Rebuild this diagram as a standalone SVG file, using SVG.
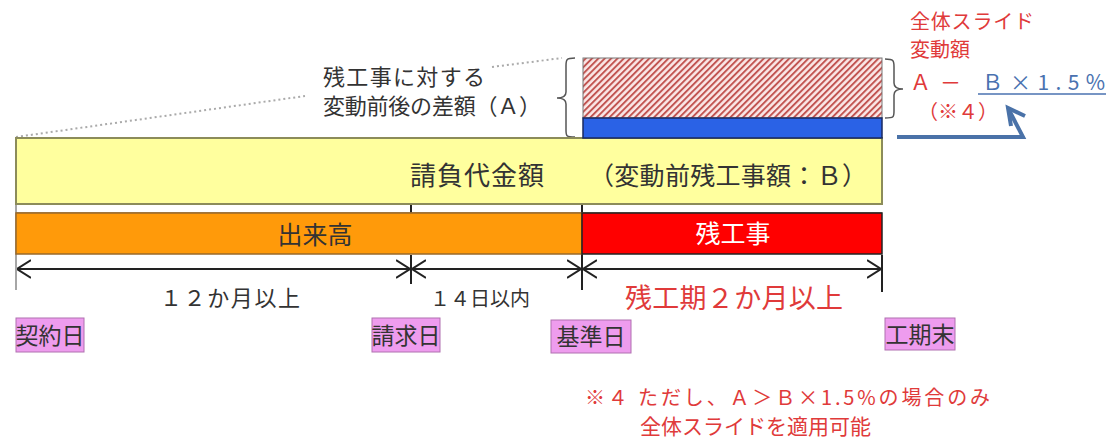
<svg xmlns="http://www.w3.org/2000/svg" width="1109" height="438" viewBox="0 0 1109 438">
<style>
.t{font-family:"Noto Sans CJK JP","Noto Sans",sans-serif;fill:#333}
.r{fill:#e03a3a}
.b{fill:#4a72b0}
.ln{stroke:#222;stroke-width:2;fill:none}
.pink{fill:#ee9cee;stroke:#b070b0;stroke-width:1}
</style>
<defs>
<pattern id="hatch" width="4.5" height="4.5" patternUnits="userSpaceOnUse" patternTransform="rotate(45)">
<rect width="4.5" height="4.5" fill="#fbe8e8"/>
<line x1="1" y1="0" x2="1" y2="4.5" stroke="#c0504d" stroke-width="1.9"/>
</pattern>
<marker id="ah" viewBox="0 0 14 20" refX="14" refY="10" markerWidth="14" markerHeight="20" markerUnits="userSpaceOnUse" orient="auto-start-reverse">
<path d="M0,1 L14,10 L0,19" fill="none" stroke="#222" stroke-width="2"/>
</marker>
</defs>
<rect width="1109" height="438" fill="#fff"/>

<g id="connectors">
<line x1="16" y1="137" x2="305" y2="96" stroke="#aaa" stroke-width="2" stroke-dasharray="2,3"/>
<line x1="492" y1="67" x2="562" y2="58" stroke="#aaa" stroke-width="2" stroke-dasharray="2,3"/>
<line x1="16" y1="138" x2="16" y2="290" stroke="#888" stroke-width="1.5"/>
<line x1="411" y1="204" x2="411" y2="213" class="ln"/>
<line x1="411" y1="255" x2="411" y2="284" class="ln"/>
<line x1="582" y1="138" x2="582" y2="204" stroke="#999" stroke-width="1.5" stroke-dasharray="4,3"/>
<line x1="582" y1="204" x2="582" y2="290" class="ln"/>
<line x1="882" y1="255" x2="882" y2="292" class="ln"/>
<line x1="17" y1="269" x2="410" y2="269" class="ln" marker-start="url(#ah)" marker-end="url(#ah)"/>
<line x1="412" y1="269" x2="581" y2="269" class="ln" marker-start="url(#ah)" marker-end="url(#ah)"/>
<line x1="583" y1="269" x2="881" y2="269" class="ln" marker-start="url(#ah)" marker-end="url(#ah)"/>
<path d="M575,58 C566,58 566,60 566,66 L566,92 C566,97 562,98 557,98 C562,98 566,99 566,104 L566,130 C566,136 566,137 575,137" fill="none" stroke="#555" stroke-width="1.5"/>
<path d="M885,59 C894,59 894,61 894,67 L894,83 C894,88 898,89 903,89 C898,89 894,90 894,95 L894,111 C894,117 894,118 885,118" fill="none" stroke="#555" stroke-width="1.5"/>
<path d="M897,137 L1023,137 L1009,110" fill="none" stroke="#4a72a8" stroke-width="4"/>
<path d="M1011,126 L1008,108 L1025,116" fill="none" stroke="#4a72a8" stroke-width="4"/>
</g>

<g id="bar-yellow">
<rect x="16" y="138" width="866" height="66" fill="#ffff9e" stroke="#8c8c5a" stroke-width="2"/>
<text class="t" x="410" y="185" font-size="26" textLength="134">請負代金額</text>
<text class="t" x="589" y="185" font-size="25" textLength="278">（変動前残工事額：Ｂ）</text>
</g>
<g id="line-gap">
<line x1="16" y1="213" x2="882" y2="213" stroke="#8c7a5a" stroke-width="1.5"/>
</g>
<g id="bar-dekidaka">
<rect x="16" y="213" width="566" height="41" fill="#ff9a0a" stroke="#9a6a2a" stroke-width="1.5"/>
<text class="t" x="315" y="244" font-size="25" text-anchor="middle">出来高</text>
</g>
<g id="bar-zan">
<rect x="582" y="213" width="300" height="41" fill="#ff0000" stroke="#222" stroke-width="1.5"/>
<text class="t" x="733" y="243" font-size="25" text-anchor="middle" style="fill:#fff">残工事</text>
</g>
<g id="hatched">
<rect x="583" y="58" width="299" height="60" fill="url(#hatch)" stroke="#777" stroke-width="1"/>
</g>
<g id="blue">
<rect x="583" y="118" width="299" height="20" fill="#2a62e6" stroke="#1a2a60" stroke-width="1.5"/>
</g>
<g id="label-A">
<text class="t" x="323" y="85" font-size="22" textLength="162">残工事に対する</text>
<text class="t" x="323" y="114" font-size="22" textLength="218">変動前後の差額（Ａ）</text>
</g>
<g id="label-slide">
<text class="t r" x="910" y="29" font-size="20" textLength="124">全体スライド</text>
<text class="t r" x="910" y="57" font-size="20">変動額</text>
<text class="t" x="910" y="90" font-size="21"><tspan class="r">Ａ</tspan><tspan class="r" x="940">－</tspan><tspan class="b" x="982">Ｂ</tspan><tspan class="b" x="1010" textLength="95">×1.5%</tspan></text>
<line x1="978" y1="94" x2="1106" y2="94" stroke="#4a72b0" stroke-width="1.5"/>
<text class="t r" x="918" y="119" font-size="20">（※４）</text>
</g>
<g id="durations">
<text class="t" x="160" y="306" font-size="22" textLength="140">１２か月以上</text>
<text class="t" x="430" y="306" font-size="20" textLength="100">１４日以内</text>
<text class="t r" x="625" y="308" font-size="27" textLength="218">残工期２か月以上</text>
</g>
<g id="keiyakubi"><rect class="pink" x="16" y="318" width="68" height="34"/><text class="t" x="50" y="344" font-size="23" text-anchor="middle">契約日</text></g>
<g id="seikyubi"><rect class="pink" x="372" y="318" width="68" height="34"/><text class="t" x="406" y="344" font-size="23" text-anchor="middle">請求日</text></g>
<g id="kijunbi"><rect class="pink" x="551" y="320" width="80" height="33" /><text class="t" x="591" y="345" font-size="23" text-anchor="middle">基準日</text></g>
<g id="kokimatsu"><rect class="pink" x="885" y="318" width="70" height="32"/><text class="t" x="920" y="343" font-size="23" text-anchor="middle">工期末</text></g>
<g id="note">
<text class="t r" x="585" y="405" font-size="20" textLength="405">※４ ただし、Ａ＞Ｂ×1.5%の場合のみ</text>
<text class="t r" x="640" y="434" font-size="21">全体スライドを適用可能</text>
</g>
</svg>
